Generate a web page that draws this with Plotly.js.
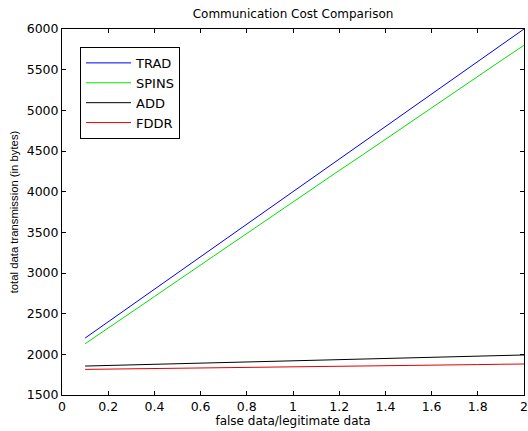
<!DOCTYPE html>
<html>
<head>
<meta charset="utf-8">
<script src="https://cdn.plot.ly/plotly-3.0.1.min.js"></script>
<style>html,body{margin:0;padding:0;background:#fff;}#chart{width:528px;height:431px;}</style>
</head>
<body>
<div id="chart"></div>
<script>
var xValues = [0.1,0.2,0.3,0.4,0.5,0.6,0.7,0.8,0.9,1.0,1.1,1.2,1.3,1.4,1.5,1.6,1.7,1.8,1.9,2.0];
var trad  = [2200,2400,2600,2800,3000,3200,3400,3600,3800,4000,4200,4400,4600,4800,5000,5200,5400,5600,5800,6000];
var spins = [2130,2320,2520,2710,2905,3100,3290,3485,3675,3870,4065,4260,4450,4645,4835,5030,5225,5420,5610,5800];
var add   = [1856,1863,1870,1878,1885,1892,1899,1906,1913,1920,1928,1935,1942,1949,1956,1963,1970,1978,1985,1992];
var fddr  = [1815,1818,1822,1825,1829,1832,1836,1839,1843,1846,1850,1853,1857,1860,1864,1867,1871,1874,1878,1881];
var seriesNames = ["TRAD","SPINS","ADD","FDDR"];
var xTicks = [0,0.2,0.4,0.6,0.8,1,1.2,1.4,1.6,1.8,2];
var xTickLabels = ["0","0.2","0.4","0.6","0.8","1","1.2","1.4","1.6","1.8","2"];
var yTicks = [1500,2000,2500,3000,3500,4000,4500,5000,5500,6000];

var colors = ["#0000ee","#00e000","#000000","#e00000"];
var ys = [trad, spins, add, fddr];
var data = ys.map(function(y,i){
  return {x:xValues, y:y, type:"scatter", mode:"lines", name:seriesNames[i],
          line:{color:colors[i], width:1}};
});
var wide = "DejaVu Sans, sans-serif";
var narrow = "Liberation Sans, Arial, sans-serif";
var layout = {
  width:528, height:431,
  margin:{l:62, r:4, t:29, b:36, pad:0},
  paper_bgcolor:"#fff", plot_bgcolor:"#fff",
  font:{family:wide, size:12, color:"#000"},
  title:{text:"Communication Cost Comparison", font:{family:wide, size:12, color:"#000"}, x:0.555, xanchor:"center", y:0.967, yanchor:"middle"},
  showlegend:true,
  legend:{x:0.039, y:0.951, xanchor:"left", yanchor:"top", bordercolor:"#000", borderwidth:1, bgcolor:"#fff",
          font:{family:wide, size:13, color:"#000"}, tracegroupgap:0, itemwidth:45},
  xaxis:{range:[0,2], tickvals:xTicks, ticktext:xTickLabels, ticks:"inside", ticklen:4, tickcolor:"#000",
         showline:true, linecolor:"#000", linewidth:1, mirror:"ticks", showgrid:false, zeroline:false,
         ticklabeloverflow:"allow",
         tickfont:{family:wide, size:12.5}, title:{text:"false data/legitimate data", font:{family:wide, size:12}, standoff:2}},
  yaxis:{range:[1500,6000], tickvals:yTicks, ticks:"inside", ticklen:4, tickcolor:"#000",
         showline:true, linecolor:"#000", linewidth:1, mirror:"ticks", showgrid:false, zeroline:false,
         tickfont:{family:wide, size:12.5}, title:{text:"total data transmission (in bytes)", font:{family:narrow, size:11.3}, standoff:5}}
};
Plotly.newPlot("chart", data, layout, {displayModeBar:false, staticPlot:true});
</script>
</body>
</html>
